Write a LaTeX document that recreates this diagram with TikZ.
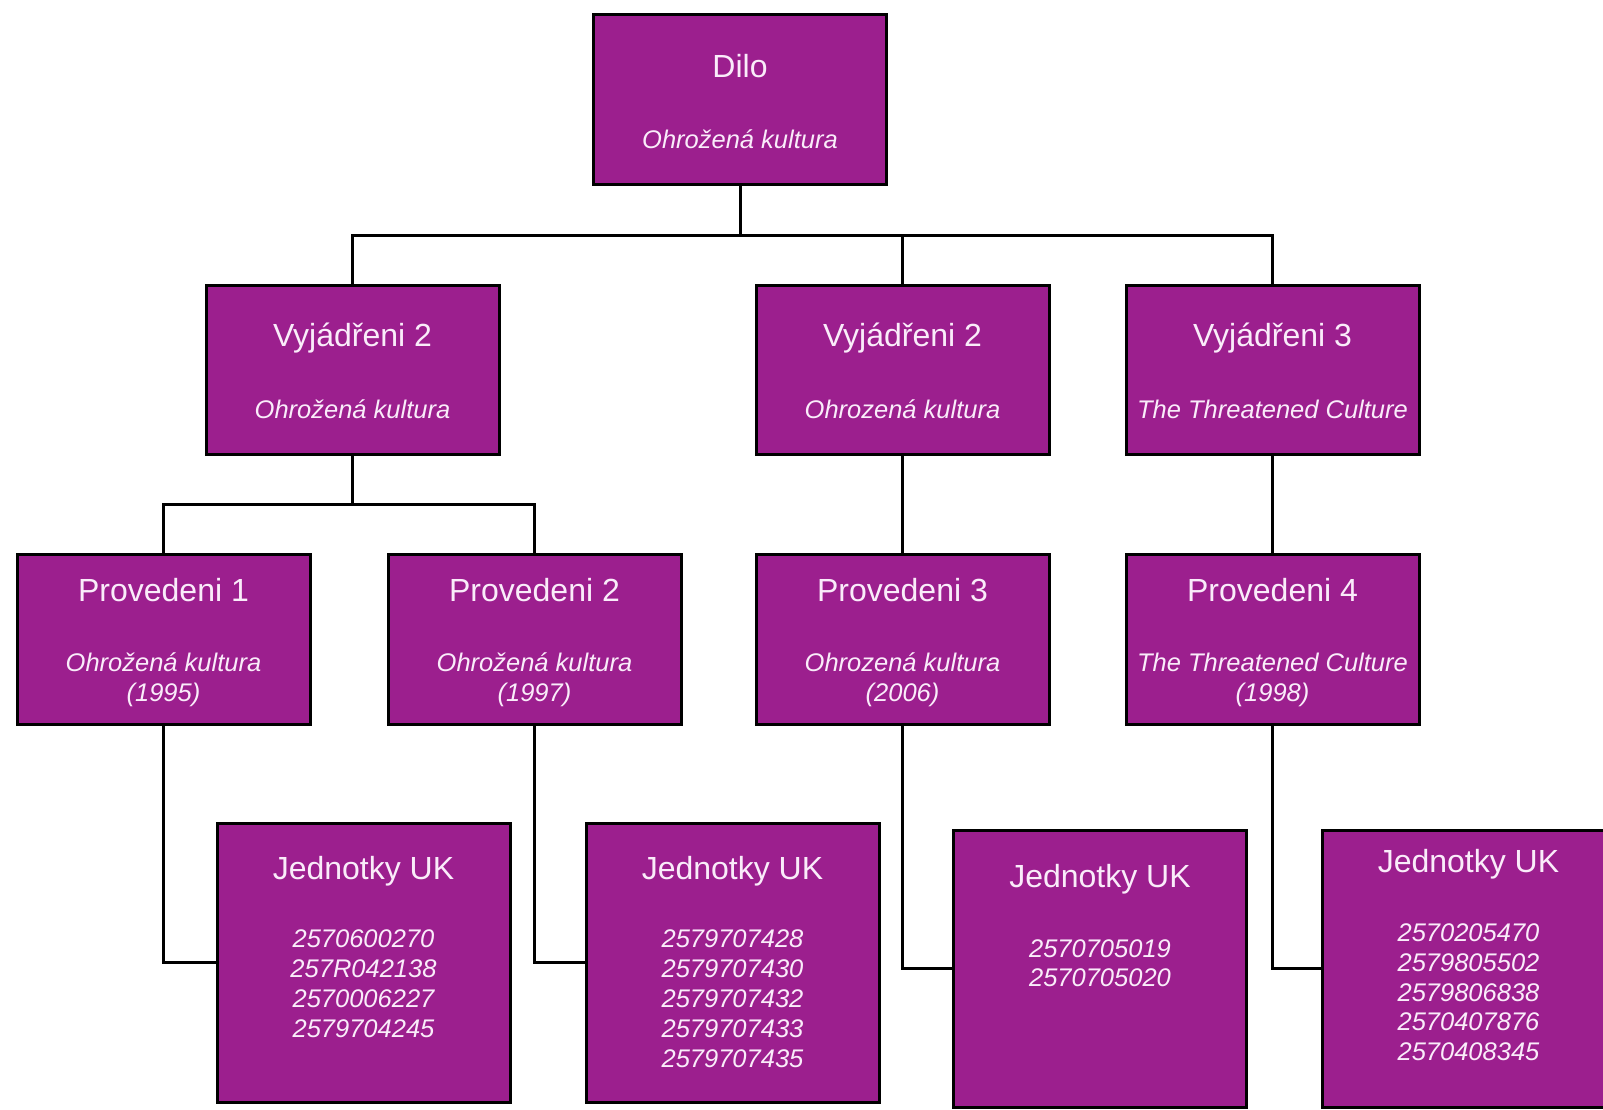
\documentclass[tikz,border=0pt]{standalone}
\usepackage{fontspec}
\setmainfont{Liberation Sans}
\definecolor{boxfill}{RGB}{156,31,142}
\definecolor{boxtext}{RGB}{250,236,250}
\tikzset{
  box/.style={draw=black, line width=3pt, fill=boxfill, minimum width=293pt, inner sep=0pt, outer sep=0pt},
  ttl/.style={anchor=base, inner sep=0pt, text=boxtext, font=\fontsize{32}{38}\selectfont},
  sub/.style={anchor=base, inner sep=0pt, text=boxtext, font=\fontsize{25.5}{30}\selectfont\itshape},
  conn/.style={draw=black, line width=3pt}
}
\begin{document}
\begin{tikzpicture}[x=1pt,y=-1pt]
\useasboundingbox (0,0) rectangle (1603,1110);
\fill[white] (0,0) rectangle (1603,1110);

% boxes
\node[box, minimum height=170pt] (dilo) at (740,100) {};
\node[box, minimum height=169pt] (v1) at (352.5,369.5) {};
\node[box, minimum height=169pt] (v2) at (902.5,369.5) {};
\node[box, minimum height=169pt] (v3) at (1272.5,369.5) {};
\node[box, minimum height=170pt] (p1) at (163.5,639) {};
\node[box, minimum height=170pt] (p2) at (534.5,639) {};
\node[box, minimum height=170pt] (p3) at (902.5,639) {};
\node[box, minimum height=170pt] (p4) at (1272.5,639) {};
\node[box, minimum height=279pt] (j1) at (363.5,962.5) {};
\node[box, minimum height=279pt] (j2) at (732.5,962.5) {};
\node[box, minimum height=277pt] (j3) at (1100,968.5) {};
\node[box, minimum height=277pt] (j4) at (1468.5,968.5) {};

% connectors
\coordinate (busL) at (352.5,235);
\coordinate (busR) at (1272.5,235);
\coordinate (busM) at (740,235);
\draw[conn] (dilo.south) -- (busM);
\draw[conn] (v1.north) |- (busM) -| (v3.north);
\draw[conn] (v2.north) -- (v2.north |- busM);
\coordinate (vbus) at (352.5,504);
\draw[conn] (v1.south) -- (vbus);
\draw[conn] (p1.north) |- (vbus) -| (p2.north);
\draw[conn] (v2.south) -- (p3.north);
\draw[conn] (v3.south) -- (p4.north);
\draw[conn] (p1.south) |- (j1.west);
\draw[conn] (p2.south) |- (j2.west);
\draw[conn] (p3.south) |- (j3.west);
\draw[conn] (p4.south) |- (j4.west);

% texts
\node[ttl] (dilot) at (740,77.5) {Dilo};
\node[sub] (dilos) at (740,149) {Ohrožená kultura};

\node[ttl] (v1t) at (352.5,346.5) {Vyjádřeni 2};
\node[sub] (v1s) at (352.5,418) {Ohrožená kultura};
\node[ttl] (v2t) at (902.5,346.5) {Vyjádřeni 2};
\node[sub] (v2s) at (902.5,418) {Ohrozená kultura};
\node[ttl] (v3t) at (1272.5,346.5) {Vyjádřeni 3};
\node[sub] (v3s) at (1272.5,418) {The Threatened Culture};

\node[ttl] (p1t) at (163.5,601.5) {Provedeni 1};
\node[sub] (p1s) at (163.5,671) {Ohrožená kultura};
\node[sub] (p1y) at (163.5,701) {(1995)};
\node[ttl] (p2t) at (534.5,601.5) {Provedeni 2};
\node[sub] (p2s) at (534.5,671) {Ohrožená kultura};
\node[sub] (p2y) at (534.5,701) {(1997)};
\node[ttl] (p3t) at (902.5,601.5) {Provedeni 3};
\node[sub] (p3s) at (902.5,671) {Ohrozená kultura};
\node[sub] (p3y) at (902.5,701) {(2006)};
\node[ttl] (p4t) at (1272.5,601.5) {Provedeni 4};
\node[sub] (p4s) at (1272.5,671) {The Threatened Culture};
\node[sub] (p4y) at (1272.5,701) {(1998)};

\node[ttl] (j1t) at (363.5,879.5) {Jednotky UK};
\node[sub] (j1a) at (363.5,947) {2570600270};
\node[sub] (j1b) at (363.5,977) {257R042138};
\node[sub] (j1c) at (363.5,1007) {2570006227};
\node[sub] (j1d) at (363.5,1037) {2579704245};

\node[ttl] (j2t) at (732.5,879.5) {Jednotky UK};
\node[sub] (j2a) at (732.5,947) {2579707428};
\node[sub] (j2b) at (732.5,977) {2579707430};
\node[sub] (j2c) at (732.5,1007) {2579707432};
\node[sub] (j2d) at (732.5,1037) {2579707433};
\node[sub] (j2e) at (732.5,1067) {2579707435};

\node[ttl] (j3t) at (1100,887.5) {Jednotky UK};
\node[sub] (j3a) at (1100,957) {2570705019};
\node[sub] (j3b) at (1100,986) {2570705020};

\node[ttl] (j4t) at (1468.5,872.5) {Jednotky UK};
\node[sub] (j4a) at (1468.5,941) {2570205470};
\node[sub] (j4b) at (1468.5,971) {2579805502};
\node[sub] (j4c) at (1468.5,1001) {2579806838};
\node[sub] (j4d) at (1468.5,1030) {2570407876};
\node[sub] (j4e) at (1468.5,1060) {2570408345};
\end{tikzpicture}
\end{document}
